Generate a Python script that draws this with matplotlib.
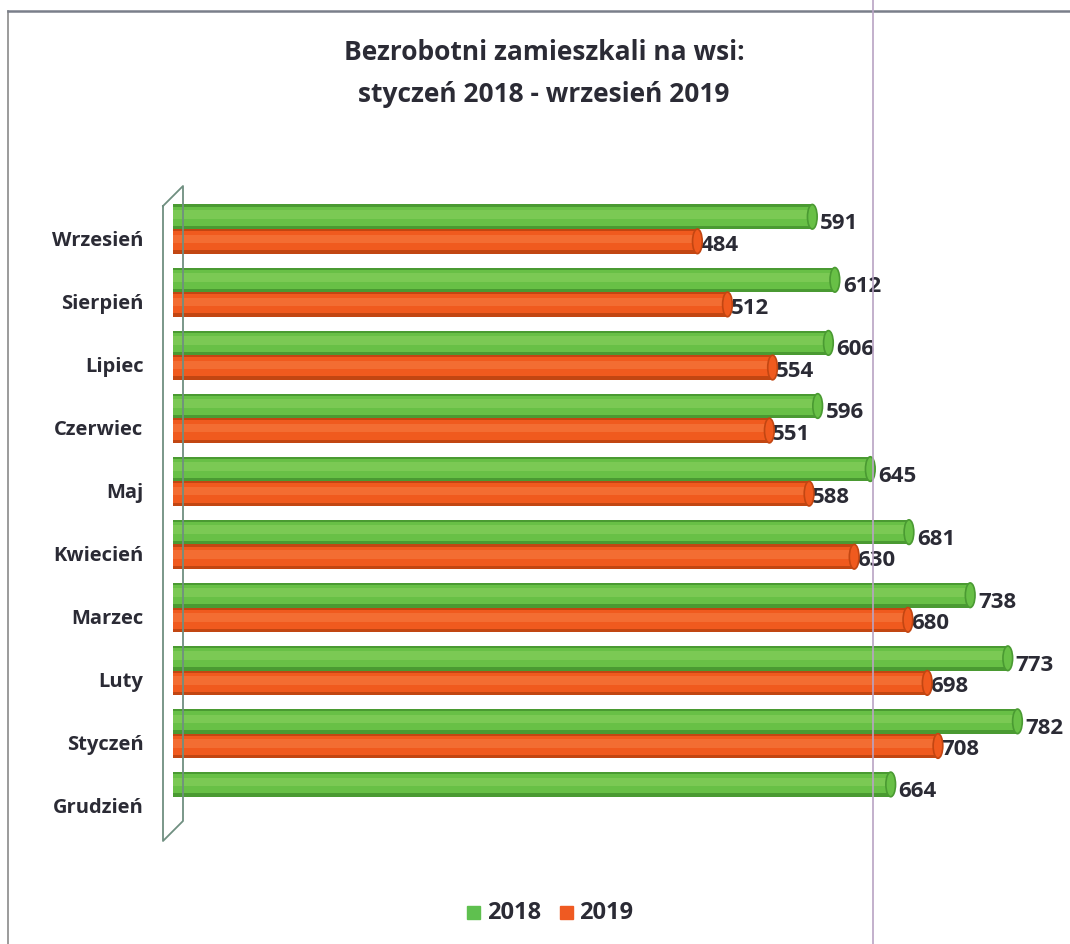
import matplotlib.pyplot as plt
from matplotlib.patches import Ellipse, Rectangle
from matplotlib.lines import Line2D

plt.rcParams['font.family'] = ['Open Sans', 'DejaVu Sans']
plt.rcParams['font.weight'] = 'bold'

months = ['Wrzesień', 'Sierpień', 'Lipiec', 'Czerwiec', 'Maj',
          'Kwiecień', 'Marzec', 'Luty', 'Styczeń', 'Grudzień']
val2018 = [591, 612, 606, 596, 645, 681, 738, 773, 782, 664]
val2019 = [484, 512, 554, 551, 588, 630, 680, 698, 708, None]

green = '#68c046'
greenDark = '#4a9a32'
greenLight = '#80cc58'
red = '#f05a1e'
redDark = '#c24612'
redLight = '#f47238'
textCol = '#2b2b35'

W, H = 1070, 945
fig = plt.figure(figsize=(W / 100, H / 100), dpi=100)

# page frame + scan line
fig.add_artist(Line2D([8 / W, 8 / W], [0, 1 - 12 / H], color='#8a8a8a', lw=1.2))
fig.add_artist(Line2D([8 / W, 1], [1 - 12 / H, 1 - 12 / H], color='#7a7f8a', lw=1.8))
fig.add_artist(Line2D([873 / W, 873 / W], [0, 1], color='#b9a3c4', lw=1.2))

fig.text(544 / W, 1 - 52 / H, 'Bezrobotni zamieszkali na wsi:', ha='center', va='center',
         fontsize=19, fontweight='bold', color=textCol)
fig.text(544 / W, 1 - 95 / H, 'styczeń 2018 - wrzesień 2019', ha='center', va='center',
         fontsize=19, fontweight='bold', color=textCol)

# left wall of the 3D chart
wx = [163 / W, 183 / W, 183 / W, 163 / W, 163 / W]
wy = [1 - 207 / H, 1 - 187 / H, 1 - 822 / H, 1 - 842 / H, 1 - 207 / H]
fig.add_artist(Line2D(wx, wy, color='#6f8f80', lw=1.3))

ax = fig.add_axes([170 / W, 1 - 840 / H, 870 / W, 650 / H])
ax.set_xlim(-7, 803)
ax.set_ylim(9.67, -0.635)
ax.axis('off')

bh = 0.39
off = 0.195
for i, m in enumerate(months):
    for vals, dy, c, cd, cl, lab_dy, lab_dx in [
        (val2018, -off, green, greenDark, greenLight, 6, 8),
        (val2019, off, red, redDark, redLight, 3, 3),
    ]:
        v = vals[i]
        if v is None:
            continue
        y = i + dy
        ax.barh(y, v + 4, left=-4, height=bh, color=cd, zorder=2)
        ax.barh(y - 0.01, v + 4, left=-4, height=bh * 0.78, color=c, zorder=3)
        ax.barh(y - 0.04, v + 4, left=-4, height=bh * 0.35, color=cl, alpha=0.8, zorder=4)
        ax.add_patch(Ellipse((v, y), 9, bh, facecolor=c, edgecolor=cd, lw=1.2, zorder=5))
        ax.annotate(str(v), (v, y), xytext=(lab_dx, -lab_dy), textcoords='offset pixels',
                    ha='left', va='center', fontsize=16, fontweight='bold', color=textCol,
                    annotation_clip=False)
    ax.text(-34 / 1.072, i + 0.17, m, ha='right', va='center', fontsize=14.5,
            fontweight='bold', color=textCol)

# legend
lg = fig.add_axes([0, 0, 1, 1], frameon=False)
lg.set_xlim(0, W)
lg.set_ylim(H, 0)
lg.axis('off')
lg.add_patch(Rectangle((467, 907), 13, 13, color='#5fc04f'))
lg.text(487, 913, '2018', va='center', ha='left', fontsize=17, fontweight='bold', color=textCol)
lg.add_patch(Rectangle((560, 907), 13, 13, color='#ef5a22'))
lg.text(579, 913, '2019', va='center', ha='left', fontsize=17, fontweight='bold', color=textCol)

fig.savefig('out.png', dpi=100)
